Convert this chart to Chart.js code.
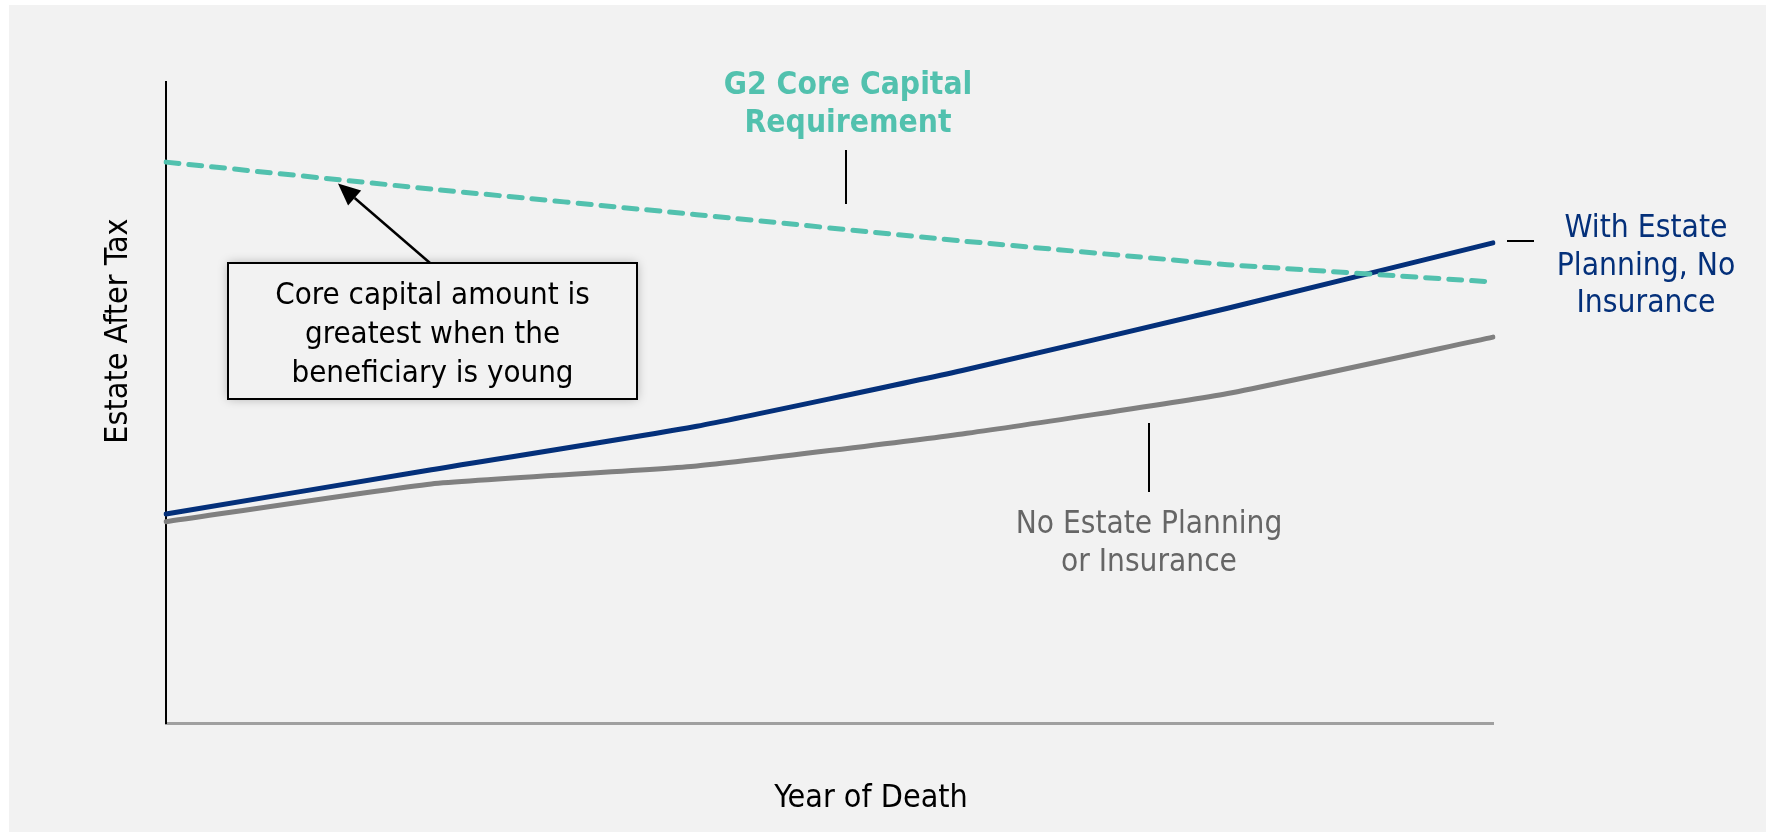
<!DOCTYPE html>
<html>
<head>
<meta charset="utf-8">
<script src="https://cdn.jsdelivr.net/npm/chart.js@4.4.1/dist/chart.umd.min.js"></script>
<style>
  html, body { margin: 0; padding: 0; background: #ffffff; }
  #wrap { width: 1769px; height: 836px; }
</style>
</head>
<body>
<div id="wrap"><canvas id="estateChart" width="1769" height="836"></canvas></div>
<script>
// values (no units shown on the axis)
const deathYears = ["Year 1", "Year 2", "Year 3", "Year 4", "Year 5", "Year 6"];
const coreCapital = [87.5, 83.3, 79.3, 75.2, 71.5, 68.8];
const withPlanning = [32.6, 39.5, 46.3, 55.0, 64.7, 74.9];
const noPlanning = [31.4, 37.3, 40.1, 45.1, 51.4, 60.2];
const yMin = 0;
const yMax = 100;

const TEAL = "#52c1ae";
const NAVY = "#04307a";
const GREY = "#808080";
const GREY_TEXT = "#666666";
const FONT = "'DejaVu Sans Condensed', 'DejaVu Sans', sans-serif";

function textLines(ctx, lines, cx, y0, lh, font, color) {
  ctx.save();
  ctx.font = font;
  ctx.fillStyle = color;
  ctx.textAlign = "center";
  ctx.textBaseline = "alphabetic";
  lines.forEach((t, i) => ctx.fillText(t, cx, y0 + i * lh));
  ctx.restore();
}

function vline(ctx, x, y1, y2) {
  ctx.save();
  ctx.strokeStyle = "#000";
  ctx.lineWidth = 2;
  ctx.beginPath();
  ctx.moveTo(x, y1);
  ctx.lineTo(x, y2);
  ctx.stroke();
  ctx.restore();
}

const background = {
  id: "background",
  beforeDraw(chart) {
    const ctx = chart.ctx;
    ctx.save();
    ctx.fillStyle = "#ffffff";
    ctx.fillRect(0, 0, chart.width, chart.height);
    ctx.fillStyle = "#f2f2f2";
    ctx.fillRect(9, 5, chart.width - 12, chart.height - 9);
    ctx.restore();
  }
};

const notes = {
  id: "notes",
  afterDraw(chart) {
    const ctx = chart.ctx;
    const xs = chart.scales.x;
    const ys = chart.scales.y;

    // axis titles
    textLines(ctx, ["Year of Death"], 871, 807, 0, "32px " + FONT, "#000");
    ctx.save();
    ctx.translate(127, 331);
    ctx.rotate(-Math.PI / 2);
    textLines(ctx, ["Estate After Tax"], 0, 0, 0, "32px " + FONT, "#000");
    ctx.restore();

    // series labels
    textLines(ctx, ["G2 Core Capital", "Requirement"], 848, 94, 38, "bold 31.5px " + FONT, TEAL);
    vline(ctx, 846, 150, 204);

    textLines(ctx, ["With Estate", "Planning, No", "Insurance"], 1646, 237, 37.5, "31.5px " + FONT, NAVY);
    ctx.save();
    ctx.strokeStyle = "#000";
    ctx.lineWidth = 2;
    ctx.beginPath();
    ctx.moveTo(1507, 241);
    ctx.lineTo(1534, 241);
    ctx.stroke();
    ctx.restore();

    textLines(ctx, ["No Estate Planning", "or Insurance"], 1149, 533, 38, "31.3px " + FONT, GREY_TEXT);
    vline(ctx, 1149, 423, 492);

    // callout box with arrow to the teal line
    const tipIdx = 0.648;
    const tipVal = coreCapital[0] + (coreCapital[1] - coreCapital[0]) * tipIdx;
    const tipX = xs.getPixelForValue(tipIdx);
    const tipY = ys.getPixelForValue(tipVal) + 4;
    const bx = 228, by = 263, bw = 409, bh = 136;
    const tailX = 430, tailY = by;

    ctx.save();
    ctx.shadowColor = "rgba(0,0,0,0.28)";
    ctx.shadowBlur = 10;
    ctx.fillStyle = "#f2f2f2";
    ctx.fillRect(bx, by, bw, bh);
    ctx.shadowColor = "transparent";
    ctx.strokeStyle = "#000";
    ctx.lineWidth = 2;
    ctx.strokeRect(bx, by, bw, bh);
    ctx.restore();
    textLines(ctx, ["Core capital amount is", "greatest when the", "beneficiary is young"],
      bx + bw / 2, 304, 39, "31px " + FONT, "#000");

    const ang = Math.atan2(tipY - tailY, tipX - tailX);
    const headLen = 22, headW = 10;
    const baseX = tipX - headLen * Math.cos(ang);
    const baseY = tipY - headLen * Math.sin(ang);
    ctx.save();
    ctx.strokeStyle = "#000";
    ctx.fillStyle = "#000";
    ctx.lineWidth = 2.5;
    ctx.beginPath();
    ctx.moveTo(tailX, tailY);
    ctx.lineTo(baseX, baseY);
    ctx.stroke();
    ctx.beginPath();
    ctx.moveTo(tipX, tipY);
    ctx.lineTo(baseX + headW * Math.sin(ang), baseY - headW * Math.cos(ang));
    ctx.lineTo(baseX - headW * Math.sin(ang), baseY + headW * Math.cos(ang));
    ctx.closePath();
    ctx.fill();
    ctx.restore();
  }
};

new Chart(document.getElementById("estateChart"), {
  type: "line",
  data: {
    labels: deathYears,
    datasets: [{
      label: "G2 Core Capital Requirement",
      data: coreCapital,
      borderColor: TEAL,
      borderWidth: 5,
      borderDash: [13, 10],
      borderCapStyle: "round",
      pointRadius: 0,
      tension: 0.1
    }, {
      label: "With Estate Planning, No Insurance",
      data: withPlanning,
      borderColor: NAVY,
      borderWidth: 5,
      borderCapStyle: "round",
      pointRadius: 0,
      tension: 0.15
    }, {
      label: "No Estate Planning or Insurance",
      data: noPlanning,
      borderColor: GREY,
      borderWidth: 5,
      borderCapStyle: "round",
      pointRadius: 0,
      tension: 0.15
    }]
  },
  options: {
    responsive: false,
    animation: false,
    devicePixelRatio: 1,
    layout: { padding: { left: 166, right: 276, top: 82, bottom: 113 } },
    plugins: {
      legend: { display: false },
      tooltip: { enabled: false }
    },
    scales: {
      x: {
        offset: false,
        grid: { display: false },
        ticks: { display: false },
        border: { display: true, color: "#a0a0a0", width: 3 },
        afterFit: s => { s.height = 0; }
      },
      y: {
        min: yMin,
        max: yMax,
        grid: { display: false },
        ticks: { display: false },
        border: { display: true, color: "#000000", width: 2 },
        afterFit: s => { s.width = 0; }
      }
    }
  },
  plugins: [background, notes]
});
</script>
</body>
</html>
